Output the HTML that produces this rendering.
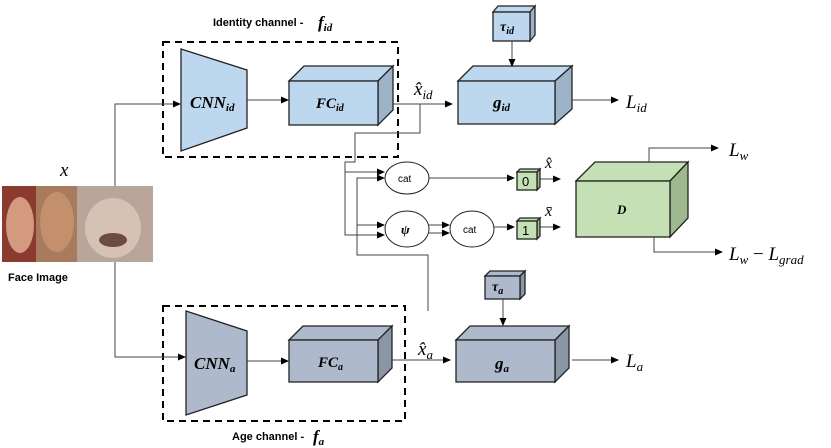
<!DOCTYPE html>
<html><head><meta charset="utf-8"><style>body{margin:0;background:#fff}svg{display:block}</style></head><body>
<svg width="831" height="448" viewBox="0 0 831 448" xmlns="http://www.w3.org/2000/svg" font-family="Liberation Serif, serif">
<defs><marker id="a" markerWidth="8" markerHeight="8" refX="7" refY="4" orient="auto" markerUnits="userSpaceOnUse"><path d="M0,0.5 L8,4 L0,7.5z" fill="#000"/></marker></defs>
<g stroke="#000" fill="none" stroke-width="1">
<rect x="163" y="42" width="235" height="115" stroke-width="2" stroke-dasharray="7,5"/>
<rect x="163" y="306" width="242" height="115" stroke-width="2" stroke-dasharray="7,5"/>
</g>
<g stroke="#222" stroke-width="1.3">
<polygon points="181,49 247,70 247,128 181,151" fill="#bdd7ee"/>
<polygon points="289,81 304,66 393,66 378,81" fill="#bdd7ee"/>
<polygon points="378,81 393,66 393,110 378,125" fill="#9db3c8"/>
<rect x="289" y="81" width="89" height="44" fill="#bdd7ee"/>
<polygon points="458,81 473,66 572,66 555,81" fill="#bdd7ee"/>
<polygon points="555,81 572,66 572,109 555,124" fill="#9db3c8"/>
<rect x="458" y="81" width="97" height="43" fill="#bdd7ee"/>
<polygon points="493,12 498,6 535,6 530,12" fill="#bdd7ee"/>
<polygon points="530,12 535,6 535,35 530,41" fill="#9db3c8"/>
<rect x="493" y="12" width="37" height="29" fill="#bdd7ee"/>
<polygon points="186,311 247,331 247,395 186,415" fill="#aeb9cc"/>
<polygon points="289,340 303,326 392,326 378,340" fill="#aeb9cc"/>
<polygon points="378,340 392,326 392,368 378,382" fill="#8a95a6"/>
<rect x="289" y="340" width="89" height="42" fill="#aeb9cc"/>
<polygon points="456,340 470,326 569,326 555,340" fill="#aeb9cc"/>
<polygon points="555,340 569,326 569,368 555,382" fill="#8a95a6"/>
<rect x="456" y="340" width="99" height="42" fill="#aeb9cc"/>
<polygon points="485,276 490,271 525,271 520,276" fill="#aeb9cc"/>
<polygon points="520,276 525,271 525,294 520,299" fill="#8a95a6"/>
<rect x="485" y="276" width="35" height="23" fill="#aeb9cc"/>
<polygon points="576,181 595,162 688,162 670,181" fill="#c5e0b4"/>
<polygon points="670,181 688,162 688,218 670,237" fill="#a0b890"/>
<rect x="576" y="181" width="94" height="56" fill="#c5e0b4"/>
<polygon points="517,172 520,169 540,169 537,172" fill="#c5e0b4"/>
<polygon points="537,172 540,169 540,187 537,190" fill="#a0b890"/>
<rect x="517" y="172" width="20" height="18" fill="#c5e0b4"/>
<polygon points="517,221 520,218 540,218 537,221" fill="#c5e0b4"/>
<polygon points="537,221 540,218 540,236 537,239" fill="#a0b890"/>
<rect x="517" y="221" width="20" height="18" fill="#c5e0b4"/>
</g>
<g stroke="#555" stroke-width="1" fill="none">
<ellipse cx="407" cy="178" rx="22" ry="16" stroke="#222"/>
<ellipse cx="407" cy="229" rx="22" ry="18" stroke="#222"/>
<ellipse cx="472" cy="229" rx="22" ry="18" stroke="#222"/>
</g>
<g stroke="#444" stroke-width="1" fill="none" marker-end="url(#a)">
<polyline points="115,186 115,104 180,104"/>
<polyline points="115,262 115,357 185,357"/>
<line x1="247" y1="100" x2="288" y2="100"/>
<line x1="247" y1="361" x2="288" y2="361"/>
<line x1="393" y1="104" x2="452" y2="104"/>
<line x1="392" y1="360" x2="450" y2="360"/>
<line x1="512" y1="41" x2="512" y2="66"/>
<line x1="503" y1="299" x2="503" y2="325"/>
<line x1="572" y1="100" x2="618" y2="100"/>
<line x1="572" y1="360" x2="618" y2="360"/>
<polyline points="420,104 420,133 355,133 355,162 345,162 345,172 383,172" marker-end="none"/>
<line x1="345" y1="172" x2="384" y2="172"/>
<polyline points="345,172 345,235 384,235"/>
<polyline points="428,311 428,255 357,255 357,178 384,178"/>
<line x1="357" y1="225" x2="384" y2="225"/>
<line x1="429" y1="225" x2="449" y2="225"/>
<line x1="429" y1="233" x2="449" y2="233"/>
<line x1="429" y1="178" x2="514" y2="178"/>
<line x1="494" y1="227" x2="514" y2="227"/>
<line x1="540" y1="179" x2="560" y2="179"/>
<line x1="540" y1="227" x2="560" y2="227"/>
<polyline points="649,162 649,148 718,148"/>
<polyline points="654,237 654,252 722,252"/>
</g>
<rect x="2" y="186" width="36" height="76" fill="#8a3b2e"/>
<rect x="36" y="186" width="42" height="76" fill="#a87b5e"/>
<rect x="77" y="186" width="76" height="76" fill="#b9a59a"/>
<ellipse cx="20" cy="225" rx="14" ry="28" fill="#d49a80"/>
<ellipse cx="57" cy="222" rx="17" ry="30" fill="#c48f6c"/>
<ellipse cx="113" cy="228" rx="28" ry="30" fill="#d6c2b5"/>
<ellipse cx="113" cy="240" rx="14" ry="7" fill="#6e4a44"/>
<g font-family="Liberation Sans, sans-serif" font-weight="bold" font-size="11" fill="#000">
<text x="8" y="281">Face Image</text>
<text x="213" y="26">Identity channel -</text>
<text x="232" y="440">Age channel -</text>
</g>
<g font-weight="bold" font-style="italic" fill="#000">
<text x="190" y="108" font-size="17">CNN<tspan font-size="11" dy="3">id</tspan></text>
<text x="316" y="108" font-size="15">FC<tspan font-size="10" dy="3">id</tspan></text>
<text x="493" y="108" font-size="17">g<tspan font-size="11" dy="3">id</tspan></text>
<text x="500" y="31" font-size="14">τ<tspan font-size="10" dy="3">id</tspan></text>
<text x="194" y="369" font-size="17">CNN<tspan font-size="11" dy="3">a</tspan></text>
<text x="318" y="367" font-size="15">FC<tspan font-size="10" dy="3">a</tspan></text>
<text x="495" y="369" font-size="17">g<tspan font-size="11" dy="3">a</tspan></text>
<text x="492" y="291" font-size="14">τ<tspan font-size="10" dy="3">a</tspan></text>
<text x="617" y="214" font-size="13">D</text>
<text x="318" y="28" font-size="17">f<tspan font-size="11" dy="3">id</tspan></text>
<text x="313" y="442" font-size="17">f<tspan font-size="11" dy="3">a</tspan></text>
<text x="401" y="234" font-size="13">ψ</text>
</g>
<g font-style="italic" fill="#000" font-size="19">
<text x="60" y="176">x</text>
<text x="414" y="95">x̂<tspan font-size="13" dy="4">id</tspan></text>
<text x="418" y="355">x̂<tspan font-size="13" dy="4">a</tspan></text>
<text x="626" y="108">L<tspan font-size="13" dy="4">id</tspan></text>
<text x="626" y="367">L<tspan font-size="13" dy="4">a</tspan></text>
<text x="729" y="156">L<tspan font-size="13" dy="4">w</tspan></text>
<text x="729" y="260">L<tspan font-size="13" dy="4">w</tspan><tspan dy="-4" font-style="normal"> − </tspan>L<tspan font-size="13" dy="4">grad</tspan></text>
<text x="545" y="168" font-size="16">x̂</text>
<text x="545" y="216" font-size="16">x̄</text>
</g>
<g font-family="Liberation Sans, sans-serif" font-size="10" fill="#000">
<text x="398" y="182">cat</text>
<text x="463" y="233">cat</text>
<text x="522" y="186" font-size="13">0</text>
<text x="522" y="235" font-size="13">1</text>
</g>
</svg>
</body></html>
